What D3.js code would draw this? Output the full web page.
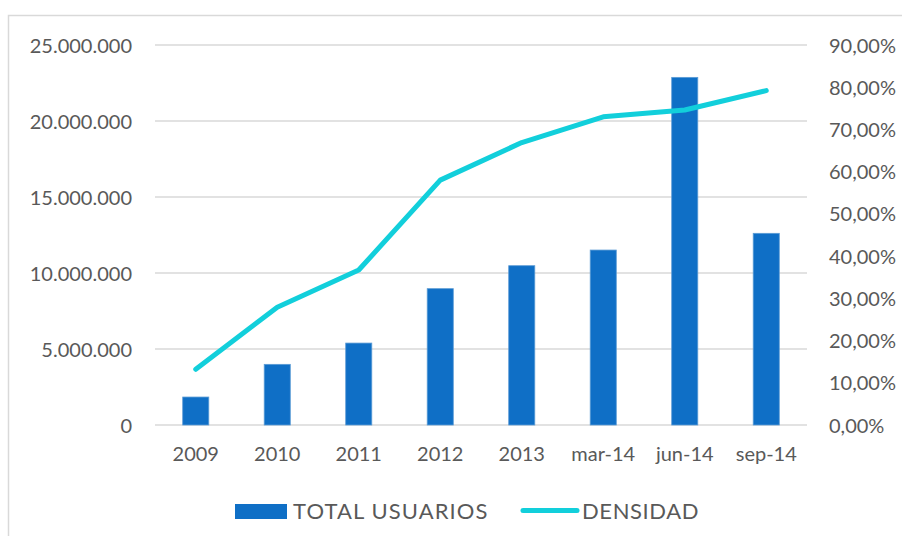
<!DOCTYPE html>
<html>
<head>
<meta charset="utf-8">
<script src="https://cdn.jsdelivr.net/npm/d3@7"></script>
<style>
  html, body { margin: 0; padding: 0; background: #fff; }
  svg text { font-family: Lato, "Open Sans", sans-serif; fill: #595959; }
</style>
</head>
<body>
<svg id="chart" width="902" height="536"></svg>
<script>
const categories = ["2009", "2010", "2011", "2012", "2013", "mar-14", "jun-14", "sep-14"];
const totalUsuarios = [1840000, 3990000, 5390000, 8970000, 10480000, 11510000, 22870000, 12610000];
const densidad = [0.132, 0.279, 0.367, 0.580, 0.669, 0.730, 0.746, 0.792];
const leftTicks = [0, 5000000, 10000000, 15000000, 20000000, 25000000];
const rightTicks = [0, 0.1, 0.2, 0.3, 0.4, 0.5, 0.6, 0.7, 0.8, 0.9];
const seriesNames = ["TOTAL USUARIOS", "DENSIDAD"];

const svg = d3.select("#chart");
const margin = { left: 155, right: 95, top: 45, bottom: 111 };
const W = 902, H = 536;
const x0 = margin.left, x1 = W - margin.right;
const y0 = H - margin.bottom, y1 = margin.top;

// outer border
svg.append("rect").attr("x", 8.5).attr("y", 15.5).attr("width", 1000).attr("height", 600)
  .attr("fill", "none").attr("stroke", "#d9d9d9").attr("stroke-width", 1.5);

const x = d3.scaleBand().domain(categories).range([x0, x1]).paddingInner(0.68).paddingOuter(0.34);
const yL = d3.scaleLinear().domain([0, 25000000]).range([y0, y1]);
const yR = d3.scaleLinear().domain([0, 0.9]).range([y0, y1]);

const fmtL = v => d3.format(",.0f")(v).replace(/,/g, ".");
const fmtR = v => d3.format(".2f")(v * 100).replace(".", ",") + "%";

// gridlines
svg.append("g").selectAll("line").data(leftTicks).join("line")
  .attr("x1", x0).attr("x2", x1)
  .attr("y1", d => yL(d)).attr("y2", d => yL(d))
  .attr("stroke", "#d9d9d9").attr("stroke-width", 1.5);

// left axis
const axL = svg.append("g").attr("transform", `translate(${x0 - 23},0)`)
  .call(d3.axisLeft(yL).tickValues(leftTicks).tickFormat(fmtL).tickSize(0).tickPadding(0));
axL.select(".domain").remove();
axL.selectAll("text").style("font-size", "20px").attr("dy", "0.35em").style("fill", "#595959");

// right axis
const axR = svg.append("g").attr("transform", `translate(${x1 + 22},0)`)
  .call(d3.axisRight(yR).tickValues(rightTicks).tickFormat(fmtR).tickSize(0).tickPadding(0));
axR.select(".domain").remove();
axR.selectAll("text").style("font-size", "20px").attr("dy", "0.35em").style("fill", "#595959");

// bottom axis
const axB = svg.append("g").attr("transform", `translate(0,${y0})`)
  .call(d3.axisBottom(x).tickSize(0).tickPadding(22));
axB.select(".domain").remove();
axB.selectAll("text").style("font-size", "20px").style("fill", "#595959");

// bars
svg.append("g").selectAll("rect").data(totalUsuarios).join("rect")
  .attr("x", (d, i) => x(categories[i]))
  .attr("width", x.bandwidth())
  .attr("y", d => yL(d))
  .attr("height", d => yL(0) - yL(d))
  .attr("fill", "#0f6fc6")
  .attr("stroke", "#5b9bd5").attr("stroke-width", 0.8);

// line
const line = d3.line()
  .x((d, i) => x(categories[i]) + x.bandwidth() / 2)
  .y(d => yR(d));
svg.append("path").datum(densidad).attr("d", line)
  .attr("fill", "none").attr("stroke", "#12cfdb").attr("stroke-width", 5)
  .attr("stroke-linecap", "round").attr("stroke-linejoin", "round");

// legend
const lg = svg.append("g");
lg.append("rect").attr("x", 235).attr("y", 504).attr("width", 52).attr("height", 15).attr("fill", "#0f6fc6");
lg.append("text").attr("x", 293).attr("y", 519).text(seriesNames[0])
  .style("font-size", "22px").style("letter-spacing", "1.1px");
lg.append("line").attr("x1", 523).attr("x2", 577).attr("y1", 510.5).attr("y2", 510.5)
  .attr("stroke", "#12cfdb").attr("stroke-width", 5).attr("stroke-linecap", "round");
lg.append("text").attr("x", 582).attr("y", 519).text(seriesNames[1])
  .style("font-size", "22px").style("letter-spacing", "0.6px");
</script>
</body>
</html>
